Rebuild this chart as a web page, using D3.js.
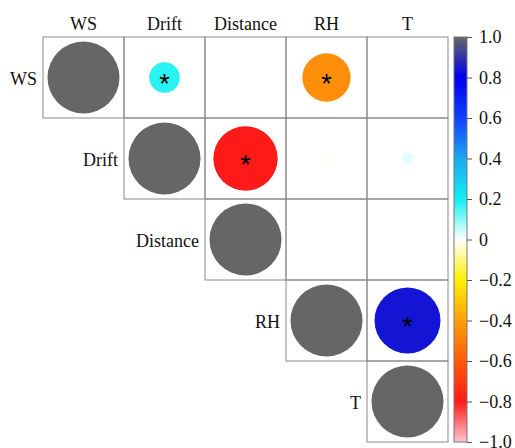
<!DOCTYPE html>
<html>
<head>
<meta charset="utf-8">
<script src="https://cdn.jsdelivr.net/npm/d3@7"></script>
<style>
  body { margin: 0; background: #fff; }
  text { font-family: "Liberation Serif", "Times New Roman", serif; fill: #111; }
</style>
</head>
<body>
<div id="chart"></div>
<script>
var variables = ["WS", "Drift", "Distance", "RH", "T"];

// upper triangle of the correlation matrix (null = not drawn)
var rowWS       = [1,    0.18,  0,    -0.45,  0];
var rowDrift    = [null, 1,    -0.8,  -0.012, 0.025];
var rowDistance = [null, null,  1,     0,     0];
var rowRH       = [null, null,  null,  1,     0.84];
var rowT        = [null, null,  null,  null,  1];

// significance stars (off-diagonal only)
var sigWS       = [0, 1, 0, 1, 0];
var sigDrift    = [0, 0, 1, 0, 0];
var sigDistance = [0, 0, 0, 0, 0];
var sigRH       = [0, 0, 0, 0, 1];
var sigT        = [0, 0, 0, 0, 0];

var colorStops = [-1, -0.8, -0.6, -0.4, -0.2, 0, 0.2, 0.4, 0.6, 0.8, 1];
var colorValues = ["#ffc6d0", "#ff1a1a", "#ff5a0a", "#ffa00a", "#fff000", "#ffffff",
                   "#10f0f0", "#1aa8ee", "#1040ff", "#0000f0", "#666666"];
var tickValues = [1, 0.8, 0.6, 0.4, 0.2, 0, -0.2, -0.4, -0.6, -0.8, -1];

var matrix = [rowWS, rowDrift, rowDistance, rowRH, rowT];
var sig = [sigWS, sigDrift, sigDistance, sigRH, sigT];

var width = 515, height = 448;
var svg = d3.select("#chart").append("svg")
    .attr("width", width)
    .attr("height", height);

var x = d3.scaleBand().domain(variables).range([43, 448]);
var y = d3.scaleBand().domain(variables).range([37, 442]);
var color = d3.scaleLinear().domain(colorStops).range(colorValues);
var rScale = d3.scaleSqrt().domain([0, 1]).range([0, 36]);

var cells = [];
matrix.forEach(function (row, i) {
    row.forEach(function (v, j) {
        if (v !== null) cells.push({ row: variables[i], col: variables[j], value: v, star: sig[i][j], diag: i === j });
    });
});

var g = svg.append("g");

g.selectAll(".cell")
    .data(cells)
    .enter().append("rect")
    .attr("class", "cell")
    .attr("x", function (d) { return x(d.col); })
    .attr("y", function (d) { return y(d.row); })
    .attr("width", x.bandwidth())
    .attr("height", y.bandwidth())
    .attr("fill", "none")
    .attr("stroke", "#8a8a8a")
    .attr("stroke-width", 1);

g.selectAll(".dot")
    .data(cells.filter(function (d) { return d.value !== 0; }))
    .enter().append("circle")
    .attr("class", "dot")
    .attr("cx", function (d) { return x(d.col) + x.bandwidth() / 2; })
    .attr("cy", function (d) { return y(d.row) + y.bandwidth() / 2; })
    .attr("r", function (d) { return rScale(Math.abs(d.value)); })
    .attr("fill", function (d) { return color(d.value); });

g.selectAll(".star")
    .data(cells.filter(function (d) { return d.star; }))
    .enter().append("text")
    .attr("class", "star")
    .attr("x", function (d) { return x(d.col) + x.bandwidth() / 2; })
    .attr("y", function (d) { return y(d.row) + y.bandwidth() / 2 + 15; })
    .attr("text-anchor", "middle")
    .style("font-family", "Liberation Sans, Arial, sans-serif")
    .style("font-size", "27px")
    .style("fill", "#000")
    .text("*");

// column labels
svg.selectAll(".colLabel")
    .data(variables)
    .enter().append("text")
    .attr("class", "colLabel")
    .attr("x", function (d) { return x(d) + x.bandwidth() / 2; })
    .attr("y", 30)
    .attr("text-anchor", "middle")
    .style("font-size", "18px")
    .text(function (d) { return d; });

// row labels, left of the diagonal cell
svg.selectAll(".rowLabel")
    .data(variables)
    .enter().append("text")
    .attr("class", "rowLabel")
    .attr("x", function (d) { return x(d) - 6; })
    .attr("y", function (d) { return y(d) + y.bandwidth() / 2 + 7; })
    .attr("text-anchor", "end")
    .style("font-size", "18px")
    .text(function (d) { return d; });

// colour bar
var barX = 454, barW = 13;
var cy = d3.scaleLinear().domain([1, -1]).range([37, 442]);

var grad = svg.append("defs").append("linearGradient")
    .attr("id", "cbar")
    .attr("x1", 0).attr("y1", 0).attr("x2", 0).attr("y2", 1);
grad.selectAll("stop")
    .data(colorStops.slice().reverse())
    .enter().append("stop")
    .attr("offset", function (d) { return (1 - d) / 2; })
    .attr("stop-color", function (d) { return color(d); });

svg.append("rect")
    .attr("x", barX)
    .attr("y", cy(1))
    .attr("width", barW)
    .attr("height", cy(-1) - cy(1))
    .attr("fill", "url(#cbar)")
    .attr("stroke", "#777")
    .attr("stroke-width", 1);

var axis = svg.append("g")
    .attr("transform", "translate(" + (barX + barW) + ",0)")
    .call(d3.axisRight(cy)
        .tickValues(tickValues)
        .tickSize(5)
        .tickFormat(function (d) { return d === 0 ? "0" : d3.format(".1f")(d).replace("-", "\u2212"); }));
axis.select(".domain").remove();
axis.selectAll(".tick line").attr("stroke", "#555");
axis.selectAll(".tick text")
    .attr("x", 12)
    .style("font-family", "Liberation Serif, Times New Roman, serif")
    .style("font-size", "18px")
    .attr("fill", "#111");
</script>
</body>
</html>
